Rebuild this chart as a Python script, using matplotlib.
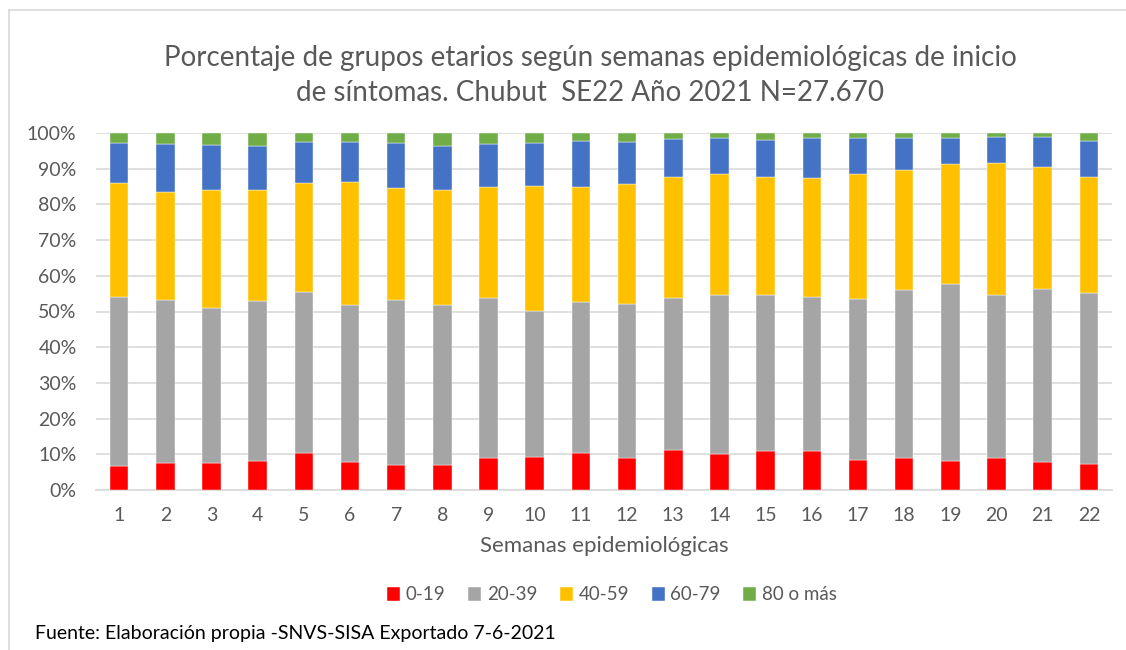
import matplotlib
matplotlib.use("Agg")
import matplotlib.pyplot as plt
import numpy as np
from matplotlib.lines import Line2D

plt.rcParams['font.family'] = ['Lato', 'DejaVu Sans']

# semanas epidemiologicas
semanas = [str(i) for i in range(1, 23)]
grupos = ['0-19', '20-39', '40-59', '60-79', '80 o más']
colores = ['#FF0000', '#A5A5A5', '#FFC000', '#4472C4', '#70AD47']

# porcentajes por grupo etario
g_0_19 = [6.7, 7.5, 7.5, 8.1, 10.4, 7.8, 6.9, 7.1, 8.9, 9.2, 10.5,
          9.0, 11.2, 10.2, 10.9, 11.0, 8.5, 9.0, 8.0, 8.9, 7.9, 7.4]
g_20_39 = [47.5, 45.7, 43.6, 44.9, 45.0, 43.9, 46.2, 44.6, 45.0, 41.0, 42.1,
           43.1, 42.7, 44.4, 43.7, 43.2, 45.1, 46.9, 49.7, 45.7, 48.4, 47.7]
g_40_59 = [31.7, 30.4, 33.0, 30.9, 30.7, 34.6, 31.4, 32.2, 31.1, 35.0, 32.4,
           33.7, 33.8, 33.9, 33.0, 33.2, 35.0, 33.8, 33.5, 37.1, 34.2, 32.5]
g_60_79 = [11.3, 13.3, 12.6, 12.5, 11.3, 11.1, 12.7, 12.4, 11.9, 12.0, 12.8,
           11.7, 10.6, 10.1, 10.5, 11.2, 10.0, 9.0, 7.5, 7.2, 8.3, 10.2]
g_80 = [2.8, 3.1, 3.3, 3.6, 2.6, 2.6, 2.8, 3.7, 3.1, 2.8, 2.2,
        2.5, 1.7, 1.4, 1.9, 1.4, 1.4, 1.3, 1.3, 1.1, 1.2, 2.2]

series = [g_0_19, g_20_39, g_40_59, g_60_79, g_80]

fig = plt.figure(figsize=(11.26, 6.5), dpi=100)
ax = fig.add_axes([96/1126, 1 - 490/650, (1112-96)/1126, (490-133)/650])

x = np.arange(len(semanas))
tot = np.array([sum(s[i] for s in series) for i in range(len(semanas))])
abajo = np.zeros(len(semanas))
for datos, col, nom in zip(series, colores, grupos):
    d = np.array(datos) / tot * 100
    ax.bar(x, d, 0.4, bottom=abajo, color=col, label=nom, zorder=3,
           edgecolor='white', linewidth=0.3)
    abajo += d

ax.set_xlim(-0.5, len(semanas) - 0.5)
ax.set_ylim(0, 100)
ax.set_yticks(range(0, 101, 10))
ax.set_yticklabels([f'{v}%' for v in range(0, 101, 10)])
ax.set_xticks(x)
ax.set_xticklabels(semanas)
ax.yaxis.grid(True, color='#D9D9D9', linewidth=1.2, zorder=0)
for s in ['top', 'right', 'left']:
    ax.spines[s].set_visible(False)
ax.spines['bottom'].set_color('#D9D9D9')
ax.spines['bottom'].set_linewidth(1.2)
ax.tick_params(axis='both', length=0, labelsize=14, colors='#595959')
ax.tick_params(axis='x', pad=12)
ax.tick_params(axis='y', pad=14)

ax.set_xlabel('Semanas epidemiológicas', fontsize=16, color='#595959', labelpad=9)

fig.text(590/1126, 1 - 58/650, 'Porcentaje de grupos etarios según semanas epidemiológicas de inicio',
         ha='center', va='center', fontsize=20, color='#595959')
fig.text(590/1126, 1 - 93/650, 'de síntomas. Chubut  SE22 Año 2021 N=27.670',
         ha='center', va='center', fontsize=20, color='#595959')

leg = fig.legend(loc='center', bbox_to_anchor=(612/1126, 1 - 595/650), ncol=5, frameon=False,
                 fontsize=13.5, handlelength=0.7, handleheight=0.7, handletextpad=0.3,
                 columnspacing=1.2, labelcolor='#595959')

fig.text(35/1126, 1 - 633/650, 'Fuente: Elaboración propia -SNVS-SISA Exportado 7-6-2021',
         ha='left', va='center', fontsize=14, color='black')

# marco del grafico
fig.add_artist(Line2D([9/1126, 1], [1 - 10/650, 1 - 10/650], color='#D9D9D9', linewidth=1.2))
fig.add_artist(Line2D([9/1126, 9/1126], [0, 1 - 10/650], color='#D9D9D9', linewidth=1.2))

fig.savefig('out.png', dpi=100)
